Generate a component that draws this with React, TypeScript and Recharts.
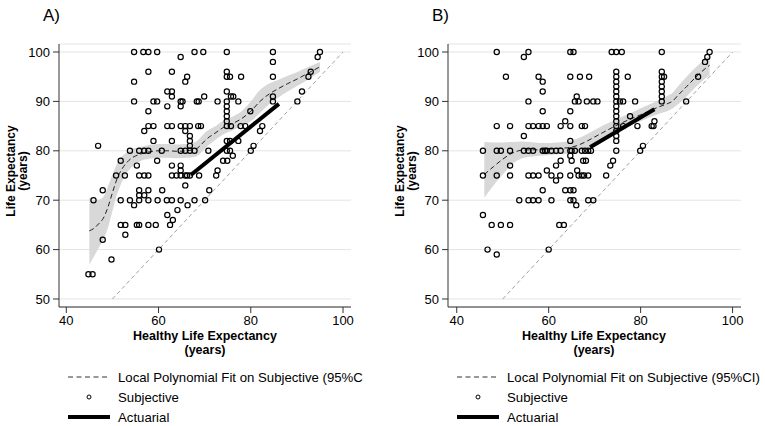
import React from 'react';
import { ComposedChart, XAxis, YAxis, CartesianGrid, Area, Line, Scatter } from 'recharts';

// ---------- tick labels ----------
const xTicks = [40, 60, 80, 100];
const yTicks = [50, 60, 70, 80, 90, 100];

// ---------- Panel A: subjective points [healthy LE, LE] ----------
const subjectiveA: number[][] = [
  [54.7,100],[56.7,100],[57.8,100],[59.7,100],[67.8,100],[69.7,100],[74.8,100],[84.8,100],[95,100],
  [64.8,99],[94.5,99],[84.8,98],
  [57.8,96],[62.9,96],[74.8,96],[93,96],
  [66.2,95],[74.8,95],[75.5,95],[77.9,95],[84.8,95],[92.5,95],
  [54.7,94],[65.8,94],
  [61.9,92],[62.9,92],[74.8,92],[91.1,92],
  [62.9,91],[69.9,91],[75.7,91],[76.2,91],[84.8,91],
  [54.7,90],[58.9,90],[59.7,90],[64.8,90],[65.2,90],[68.3,90],[68.7,90],[72.8,90],[74.8,90],[77.3,90],[84.8,90],[90.1,90],
  [61.9,89],[64.8,89],[74.8,89],
  [57.8,88],[74.8,88],[79.9,88],
  [74.8,87],[74.8,86],
  [57.8,85],[58.9,85],[61.9,85],[62.9,85],[64.8,85],[65.8,85],[66.8,85],[68.6,85],[69.2,85],[74.8,85],[75.7,85],[77.8,85],[78.8,85],[82.5,85],
  [56.9,84],[65.8,84],[82,84],
  [66.8,83],
  [58.9,82],[62.9,82],[66.8,82],[74.8,82],[75.5,82],[77.3,82],
  [46.9,81],[66.8,81],[80.6,81],
  [53.8,80],[55.8,80],[56.9,80],[57.8,80],[60.7,80],[64.8,80],[65.8,80],[66.8,80],[67.8,80],[70.8,80],[74.8,80],[75.5,80],[80,80],
  [76.1,79],
  [51.8,78],[59.7,78],[74,78],[74.9,78],
  [55.3,77],[62.9,77],[64.8,77],
  [64.8,76],[72.8,76],
  [50.8,75],[52.7,75],[55.8,75],[56.9,75],[57.8,75],[62.9,75],[63.9,75],[64.8,75],[65.8,75],[66.2,75],[66.8,75],[68.8,75],[72.5,75],
  [65.8,73],
  [47.9,72],[55.8,72],[57.8,72],[60.8,72],[71,72],
  [55.8,71],[56.9,71],
  [45.9,70],[51.8,70],[53.8,70],[55.8,70],[57.8,70],[59.8,70],[61.8,70],[62.9,70],[64.8,70],[67.8,70],[70.1,70],
  [54.7,69],[66.3,69],
  [64.1,68],[61.9,67],[63.1,66],
  [51.8,65],[52.8,65],[55.3,65],[55.8,65],[57.8,65],[59.4,65],[62.5,65],
  [52.8,63],[47.9,62],[60.1,60],[49.8,58],[44.8,55],[45.7,55],
];

// ---------- Panel B: subjective points ----------
const subjectiveB: number[][] = [
  [48.7,100],[55.6,100],[64.7,100],[65.4,100],[73.7,100],[74.7,100],[75.9,100],[84.6,100],[95,100],
  [54.6,99],[94.5,99],[94,98],
  [74.7,96],[84.6,96],
  [50.7,95],[57.8,95],[64.7,95],[66.8,95],[68.8,95],[74.7,95],[77.2,95],[84.6,95],[85.1,95],[92.5,95],
  [58.7,94],[74.7,94],[84.6,94],
  [74.7,93],[84.6,93],
  [58.7,92],[74.7,92],[84.6,92],
  [66.1,91],[74.7,91],[84.6,91],
  [55.6,90],[65.7,90],[66.5,90],[68.3,90],[69.7,90],[70.6,90],[74.7,90],[75.5,90],[76.2,90],[78.8,90],[84.6,90],[89.9,90],
  [74.7,89],
  [58.7,88],[64.7,88],[74.7,88],
  [74.7,87],[77.7,87],
  [63.6,86],[74.7,86],[83,86],
  [48.7,85],[51.6,85],[55.6,85],[56.6,85],[57.8,85],[58.7,85],[59.6,85],[62.6,85],[64.7,85],[67.2,85],[67.9,85],[74.7,85],[76.2,85],[79.3,85],[82.4,85],[82.8,85],
  [74.7,84],
  [54.6,83],[74.7,83],
  [64.7,82],[74.7,82],
  [80.5,81],
  [45.7,80],[48.7,80],[49.6,80],[51.6,80],[54.6,80],[55.6,80],[56.6,80],[58.7,80],[59.2,80],[59.6,80],[60.6,80],[61.6,80],[62.6,80],[64.7,80],[65,80],[65.7,80],[67.2,80],[67.9,80],[68.6,80],[69.2,80],[74.7,80],[79.9,80],
  [64.7,79],
  [62.6,78],[65,78],[67.5,78],[68.1,78],[74,78],
  [51.6,77],[61.6,77],[73.4,77],
  [59.6,76],[66.2,76],
  [45.7,75],[48.7,75],[51.6,75],[55.6,75],[56.6,75],[57.8,75],[60.6,75],[62.5,75],[64.7,75],[66.5,75],[67.2,75],[67.7,75],[68.6,75],[72.5,75],
  [61.6,74],
  [58.7,72],[63.6,72],[64.7,72],[65.4,72],
  [53.6,70],[55.6,70],[56.6,70],[57.8,70],[60.6,70],[64.7,70],[65.4,70],[68.6,70],[69.7,70],
  [66,69],[45.7,67],
  [47.6,65],[49.6,65],[51.6,65],[62.3,65],[63.3,65],
  [46.7,60],[60,60],[48.7,59],
];

// ---------- Local polynomial fits (95% CI) ----------
const fitA_x  = [45, 46, 47, 48, 49, 50, 51, 52, 53, 54, 56, 58, 60, 62, 64, 66, 68, 69, 70, 71, 72, 74, 76, 78, 79, 80, 82, 84, 86, 88, 90, 92, 95];
const fitA_y  = [63.8, 64.3, 65.2, 66.3, 68.5, 71.5, 74.3, 76.2, 77.5, 78.4, 79.3, 79.8, 80, 80, 79.9, 80, 80.3, 81, 82, 82.8, 83.4, 84.7, 85.5, 86.5, 87.2, 88, 90, 91.5, 92.6, 93.6, 94.5, 95.5, 97];
const fitA_lo = [57, 58.6, 60.3, 62, 64.3, 67.8, 71.2, 73.6, 75.4, 76.5, 77.9, 78.4, 78.6, 78.6, 78.5, 78.6, 78.8, 79.4, 80.4, 81.3, 82, 83.3, 84.1, 85, 85.5, 86, 87.7, 89.4, 90.8, 92, 93.1, 94.2, 96];
const fitA_hi = [70.6, 70, 70.1, 70.6, 72.7, 75.2, 77.4, 78.8, 79.6, 80.3, 80.7, 81.2, 81.4, 81.4, 81.3, 81.4, 81.8, 82.6, 83.6, 84.3, 84.8, 86.1, 86.9, 88, 88.9, 90, 92.3, 93.6, 94.4, 95.2, 95.9, 96.8, 98];

const fitB_x  = [46, 48, 50, 52, 54, 56, 58, 60, 62, 64, 66, 68, 70, 72, 74, 76, 78, 80, 82, 84, 86, 87, 88, 90, 92, 94, 95];
const fitB_y  = [75.2, 76.8, 78.3, 79.5, 80.1, 80.2, 80.2, 80.3, 80.5, 80.6, 81, 81.8, 82.8, 83.8, 84.8, 85.7, 86.5, 87.3, 88.1, 88.9, 89.6, 90.1, 91.1, 93, 94.9, 96.6, 97.3];
const fitB_lo = [70.5, 73, 75.2, 77.3, 78.4, 78.8, 79, 79.1, 79.3, 79.4, 79.7, 80.4, 81.5, 82.5, 83.6, 84.5, 85.3, 86, 86.8, 87.5, 88.1, 88.6, 89.3, 91, 92.9, 94.6, 95.3];
const fitB_hi = [81.8, 81.7, 81.7, 81.8, 81.9, 81.8, 81.6, 81.6, 81.7, 81.9, 82.4, 83.2, 84.2, 85.2, 86.1, 86.9, 87.7, 88.6, 89.4, 90.3, 91.2, 91.8, 92.9, 95, 96.9, 98.6, 99.3];

// ---------- Actuarial lines ----------
const actuarialA_x = [67, 86.1];
const actuarialA_y = [75.1, 89.5];
const actuarialB_x = [69, 83];
const actuarialB_y = [80.7, 88.4];

// ---------- 45-degree reference ----------
const diag_x = [50, 100];
const diag_y = [50, 100];

const FONT = '"Liberation Sans", Arial, Helvetica, sans-serif';

const toXY = (xs: number[], ys: number[]) => xs.map((x, i) => ({ x, y: ys[i] }));

const Circle = (props: any) => {
  const { cx, cy } = props;
  if (cx == null || cy == null) return null;
  return <circle cx={cx} cy={cy} r={2.6} fill="none" stroke="#000" strokeWidth={1.2} />;
};

type PanelProps = {
  left: number;
  width: number;
  rightMargin: number;
  xDomain: [number, number];
  points: number[][];
  fx: number[]; fy: number[]; flo: number[]; fhi: number[];
  ax: number[]; ay: number[];
};

function Panel(p: PanelProps) {
  const pts = p.points.map(([x, y]) => ({ x, y }));
  const band = p.fx.map((x, i) => ({ x, band: [p.flo[i], p.fhi[i]] }));
  const fit = toXY(p.fx, p.fy);
  const act = toXY(p.ax, p.ay);
  const diag = toXY(diag_x, diag_y);
  return (
    <div style={{ position: 'absolute', left: p.left, top: 0 }}>
      <ComposedChart width={p.width} height={340} margin={{ top: 44, right: p.rightMargin, bottom: 0, left: 0 }}>
        <CartesianGrid vertical={false} stroke="#e4e4e4" strokeWidth={1} />
        <XAxis
          type="number" dataKey="x" domain={p.xDomain} ticks={xTicks} allowDataOverflow interval={0}
          height={33} tickSize={6} tickMargin={3}
          tick={{ fontSize: 13, fill: '#000', fontFamily: FONT }}
          axisLine={{ stroke: '#333' }} tickLine={{ stroke: '#333' }}
        />
        <YAxis
          type="number" domain={[48.38, 101.62]} ticks={yTicks} allowDataOverflow interval={0}
          width={59} tickSize={6} tickMargin={3}
          tick={{ fontSize: 13, fill: '#000', fontFamily: FONT }}
          axisLine={{ stroke: '#333' }} tickLine={{ stroke: '#333' }}
        />
        <Area data={band} dataKey="band" type="monotone" stroke="none" fill="#d8d8d8" fillOpacity={1} isAnimationActive={false} activeDot={false} />
        <Line data={diag} dataKey="y" type="linear" stroke="#a0a0a0" strokeWidth={1} strokeDasharray="4 3" dot={false} activeDot={false} isAnimationActive={false} />
        <Scatter data={pts} dataKey="y" shape={Circle} isAnimationActive={false} />
        <Line data={fit} dataKey="y" type="monotone" stroke="#222" strokeWidth={1} strokeDasharray="5 3" dot={false} activeDot={false} isAnimationActive={false} />
        <Line data={act} dataKey="y" type="linear" stroke="#000" strokeWidth={4} dot={false} activeDot={false} isAnimationActive={false} />
      </ComposedChart>
    </div>
  );
}

function Overlay({ dx, fitLabel, title }: { dx: number; fitLabel: string; title: string }) {
  return (
    <g transform={`translate(${dx},0)`} fontFamily={FONT} fill="#000">
      <text x={43} y={15} fontSize={17} dominantBaseline="central">{title}</text>
      <text transform="translate(10.5,171) rotate(-90)" textAnchor="middle" dominantBaseline="central" fontSize={12} fontWeight="bold">Life Expectancy</text>
      <text transform="translate(23,171) rotate(-90)" textAnchor="middle" dominantBaseline="central" fontSize={12} fontWeight="bold">(years)</text>
      <text x={205} y={335.5} textAnchor="middle" dominantBaseline="central" fontSize={12.5} fontWeight="bold">Healthy Life Expectancy</text>
      <text x={205} y={350} textAnchor="middle" dominantBaseline="central" fontSize={12.5} fontWeight="bold">(years)</text>
      <line x1={68} x2={110} y1={377} y2={377} stroke="#333" strokeWidth={1} strokeDasharray="5 3.5" />
      <text x={118} y={377} dominantBaseline="central" fontSize={13.2}>{fitLabel}</text>
      <circle cx={89} cy={397} r={2} fill="none" stroke="#000" strokeWidth={1} />
      <text x={118} y={397} dominantBaseline="central" fontSize={13.2}>Subjective</text>
      <line x1={68} x2={110} y1={417} y2={417} stroke="#000" strokeWidth={4} />
      <text x={118} y={417} dominantBaseline="central" fontSize={13.2}>Actuarial</text>
    </g>
  );
}

export default function App() {
  return (
    <div style={{ position: 'absolute', left: 0, top: 0, width: 765, height: 426, background: '#fff', overflow: 'hidden' }}>
      <Panel left={0} width={380} rightMargin={29} xDomain={[38.42, 101.73]} points={subjectiveA}
        fx={fitA_x} fy={fitA_y} flo={fitA_lo} fhi={fitA_hi} ax={actuarialA_x} ay={actuarialA_y} />
      <Panel left={389} width={376} rightMargin={24} xDomain={[38.1, 101.83]} points={subjectiveB}
        fx={fitB_x} fy={fitB_y} flo={fitB_lo} fhi={fitB_hi} ax={actuarialB_x} ay={actuarialB_y} />
      <svg width={765} height={426} style={{ position: 'absolute', left: 0, top: 0, pointerEvents: 'none' }}>
        <Overlay dx={0} title="A)" fitLabel="Local Polynomial Fit on Subjective (95%C" />
        <Overlay dx={389} title="B)" fitLabel="Local Polynomial Fit on Subjective (95%CI)" />
      </svg>
    </div>
  );
}
